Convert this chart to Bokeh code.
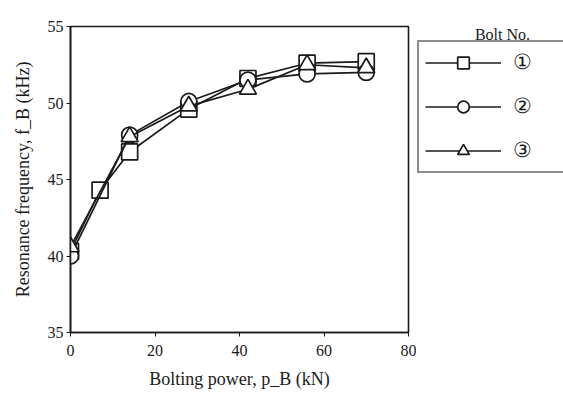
from bokeh.plotting import figure
from bokeh.layouts import row
from bokeh.models import Legend, LegendItem, FixedTicker, Range1d, Label
from bokeh.embed import file_html
from bokeh.resources import INLINE

# Data
x_bolt1 = [0, 7, 14, 28, 42, 56, 70]
y_bolt1 = [40.3, 44.3, 46.8, 49.6, 51.6, 52.6, 52.7]
x_bolt2 = [0, 14, 28, 42, 56, 70]
y_bolt2 = [40.0, 47.9, 50.1, 51.5, 51.9, 52.0]
x_bolt3 = [0, 14, 28, 42, 56, 70]
y_bolt3 = [40.6, 47.8, 49.8, 50.9, 52.5, 52.3]
labels = ["①", "②", "③"]
legend_title = "Bolt No."
x_ticks = [0, 20, 40, 60, 80]
y_ticks = [35, 40, 45, 50, 55]

FONT = "Liberation Serif"
INK = "#1a1a1a"
LW = 1.7

p = figure(width=416, height=394, output_backend="svg", toolbar_location=None,
           x_range=Range1d(0, 80), y_range=Range1d(35, 55),
           min_border_left=70, min_border_right=8, min_border_top=26, min_border_bottom=62)
p.grid.visible = False
p.outline_line_color = INK
p.outline_line_width = 1.6

for ax in (p.xaxis[0], p.yaxis[0]):
    ax.axis_line_color = INK
    ax.axis_line_width = 1.6
    ax.major_tick_line_color = INK
    ax.minor_tick_line_color = None
    ax.major_tick_in = 0
    ax.major_tick_out = 4
    ax.major_label_text_font = FONT
    ax.major_label_text_font_size = "16px"
    ax.major_label_text_color = INK
    ax.axis_label_text_font = FONT
    ax.axis_label_text_font_size = "18px"
    ax.axis_label_text_font_style = "normal"
    ax.axis_label_text_color = INK

p.xaxis.ticker = FixedTicker(ticks=x_ticks)
p.yaxis.ticker = FixedTicker(ticks=y_ticks)
p.xaxis.major_label_standoff = 8
p.yaxis.major_label_standoff = 3
p.xaxis.axis_label = "Bolting power, p_B (kN)"
p.yaxis.axis_label = "Resonance frequency, f_B (kHz)"
p.xaxis.axis_label_standoff = 10
p.yaxis.axis_label_standoff = 12

p.line(x_bolt1, y_bolt1, line_color=INK, line_width=LW)
p.scatter(x_bolt1, y_bolt1, marker="square", size=16, fill_color="white",
          line_color=INK, line_width=LW)
p.line(x_bolt2, y_bolt2, line_color=INK, line_width=LW)
p.scatter(x_bolt2, y_bolt2, marker="circle", size=16, fill_color="white",
          line_color=INK, line_width=LW)
p.line(x_bolt3, y_bolt3, line_color=INK, line_width=LW)
p.scatter(x_bolt3, y_bolt3, marker="triangle", size=17, fill_color="white",
          line_color=INK, line_width=LW)

# Legend panel (a second figure whose frame spans the same height as the plot)
q = figure(width=147, height=394, output_backend="svg", toolbar_location=None,
           x_axis_type=None, y_axis_type=None, x_range=Range1d(0, 1), y_range=Range1d(0, 1),
           min_border_left=0, min_border_right=0, min_border_top=26, min_border_bottom=62)
q.grid.visible = False
q.outline_line_color = None

items = []
for lab, mk, sz in zip(labels, ["square", "circle", "triangle"], [15, 14, 15]):
    lr = q.line([-5, -4], [-5, -4], line_color=INK, line_width=LW)
    sr = q.scatter([-5], [-5], marker=mk, size=sz, fill_color="white", line_color=INK, line_width=LW)
    items.append(LegendItem(label=lab, renderers=[lr, sr]))

legend = Legend(items=items, location=(1, 159))
legend.border_line_color = INK
legend.border_line_width = 2.5
legend.padding = 6
legend.spacing = 15
legend.glyph_height = 29
legend.label_height = 29
legend.glyph_width = 76
legend.label_standoff = 12
legend.label_width = 100
legend.margin = 0
legend.label_text_font = FONT
legend.label_text_font_size = "21px"
legend.label_text_color = INK
legend.label_text_baseline = "middle"
q.add_layout(legend, "center")

title = Label(x=86, y=298, x_units="screen", y_units="screen", text=legend_title,
              text_font=FONT, text_font_size="16px", text_color=INK,
              text_align="center", text_baseline="middle")
q.add_layout(title)

open("out.html", "w").write(file_html(row(p, q), INLINE))
